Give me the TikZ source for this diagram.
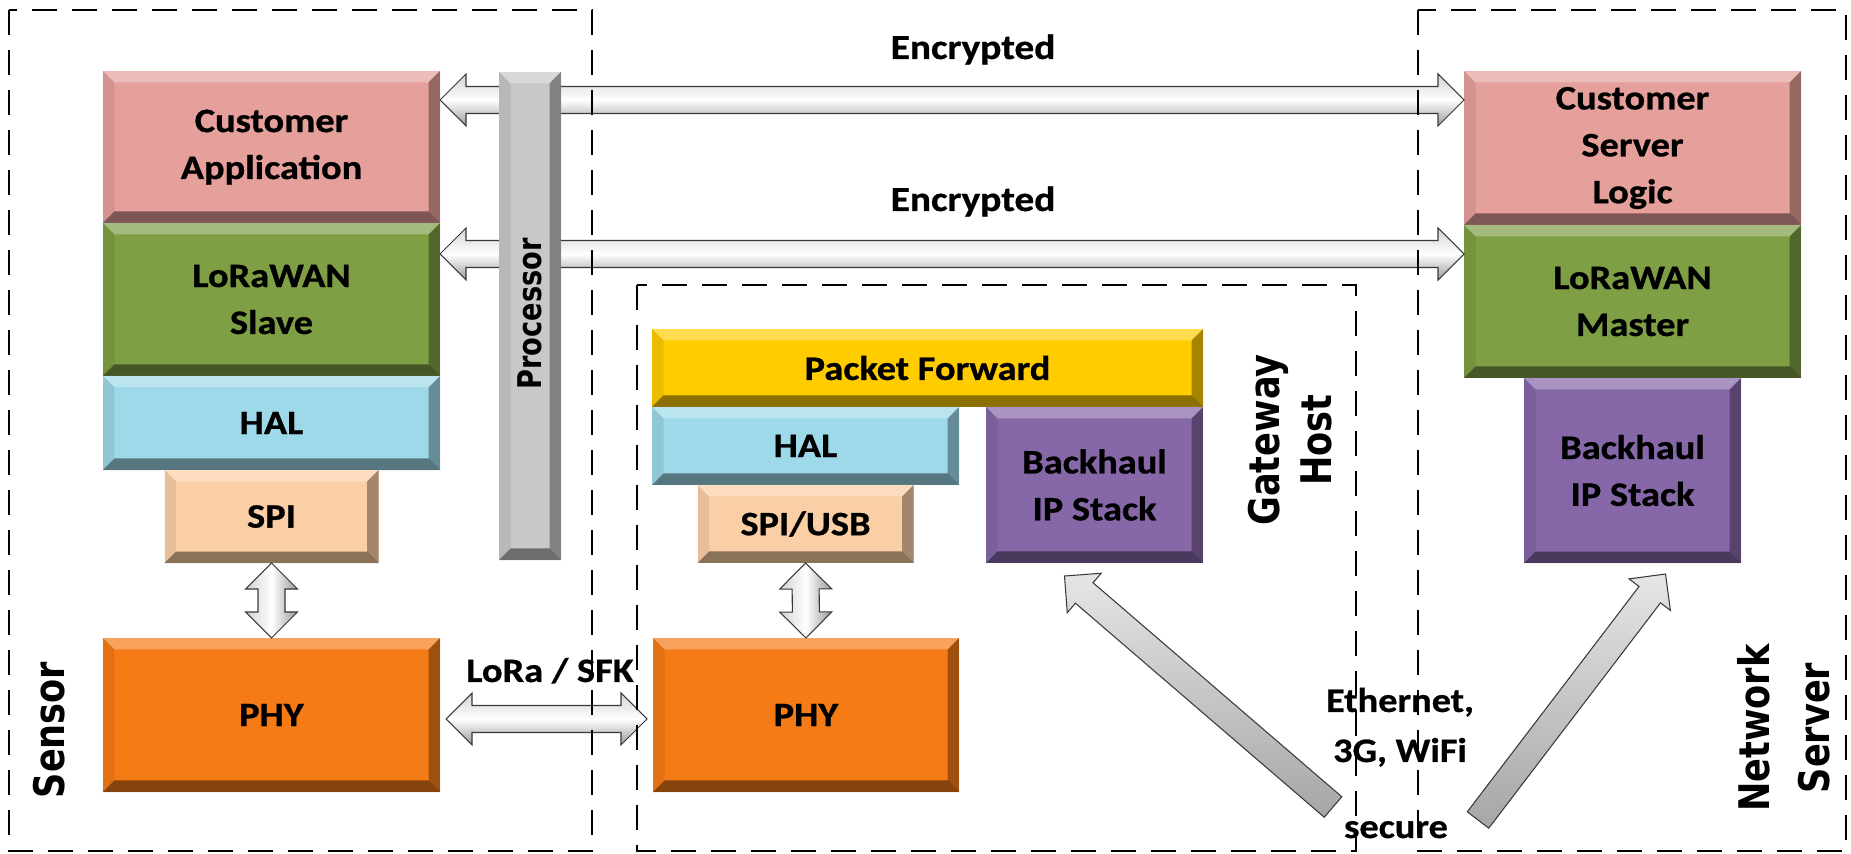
\documentclass[tikz,border=0pt]{standalone}
\usepackage{fontspec}
\setmainfont{Carlito}
\newfontfamily\boxfont{Carlito}[FakeStretch=1.12, FakeBold=0.8]
\newfontfamily\tagfont{DejaVu Sans}
\usetikzlibrary{positioning, calc}

\definecolor{appPink}{RGB}{229,160,155}
\definecolor{macGreen}{RGB}{127,159,69}
\definecolor{halBlue}{RGB}{157,217,232}
\definecolor{spiPeach}{RGB}{251,207,165}
\definecolor{phyOrange}{RGB}{245,123,22}
\definecolor{fwdYellow}{RGB}{255,204,0}
\definecolor{ipPurple}{RGB}{134,104,168}
\definecolor{procGray}{RGB}{200,200,200}

\newcommand*{\bevelw}{2.3mm}
\newcommand*{\headlen}{5.2mm}
\newcommand*{\headhalf}{5.2mm}
\newcommand*{\shafthalf}{2.7mm}

\tikzset{
  stackbox/.style={fill=#1, inner sep=0pt, outer sep=0pt, align=center,
    font=\boxfont\bfseries\fontsize{19.5}{26.7}\selectfont,
    path picture={
      \path (path picture bounding box.south west) coordinate (bsw)
            (path picture bounding box.north east) coordinate (bne)
            (path picture bounding box.north west) coordinate (bnw)
            (path picture bounding box.south east) coordinate (bse);
      \fill[white, opacity=.3] (bnw) -- (bne) -- ($(bne)+(-\bevelw,-\bevelw)$) -- ($(bnw)+(\bevelw,-\bevelw)$) -- cycle;
      \fill[black, opacity=.08] (bnw) -- ($(bnw)+(\bevelw,-\bevelw)$) -- ($(bsw)+(\bevelw,\bevelw)$) -- (bsw) -- cycle;
      \fill[black, opacity=.35] (bne) -- (bse) -- ($(bse)+(-\bevelw,\bevelw)$) -- ($(bne)+(-\bevelw,-\bevelw)$) -- cycle;
      \fill[black, opacity=.45] (bsw) -- (bse) -- ($(bse)+(-\bevelw,\bevelw)$) -- ($(bsw)+(\bevelw,\bevelw)$) -- cycle;
    }},
  fatarrow/.style={draw=gray!45!black, line width=0.6pt,
    top color=gray!35, bottom color=gray!80, middle color=white},
  slantarrow/.style={top color=gray!20, bottom color=gray!70},
  notelabel/.style={font=\boxfont\bfseries\fontsize{19.5}{28.5}\selectfont, inner sep=0pt},
  sidelabel/.style={font=\tagfont\bfseries\fontsize{20}{25}\selectfont, inner sep=0pt, align=center},
  zonebox/.style={line width=1.4pt, dash pattern=on 5mm off 3mm}
}

% double block arrow: #2 -> #3
\newcommand{\twoway}[3][]{%
  \path[fatarrow,#1] let \p1=(#2), \p2=(#3), \n1={atan2(\y2-\y1,\x2-\x1)} in
    (\p1) -- ($(\p1)+(\n1:\headlen)+({\n1+90}:\headhalf)$)
    -- ($(\p1)+(\n1:\headlen)+({\n1+90}:\shafthalf)$)
    -- ($(\p2)+({\n1+180}:\headlen)+({\n1+90}:\shafthalf)$)
    -- ($(\p2)+({\n1+180}:\headlen)+({\n1+90}:\headhalf)$)
    -- (\p2)
    -- ($(\p2)+({\n1+180}:\headlen)+({\n1-90}:\headhalf)$)
    -- ($(\p2)+({\n1+180}:\headlen)+({\n1-90}:\shafthalf)$)
    -- ($(\p1)+(\n1:\headlen)+({\n1-90}:\shafthalf)$)
    -- ($(\p1)+(\n1:\headlen)+({\n1-90}:\headhalf)$) -- cycle;}

% single block arrow: tail #2, tip #3
\newcommand{\oneway}[3][]{%
  \path[fatarrow,#1] let \p1=(#2), \p2=(#3), \n1={atan2(\y2-\y1,\x2-\x1)} in
    ($(\p1)+({\n1+90}:\shafthalf)$)
    -- ($(\p2)+({\n1+180}:\headlen)+({\n1+90}:\shafthalf)$)
    -- ($(\p2)+({\n1+180}:\headlen)+({\n1+90}:\headhalf)$)
    -- (\p2)
    -- ($(\p2)+({\n1+180}:\headlen)+({\n1-90}:\headhalf)$)
    -- ($(\p2)+({\n1+180}:\headlen)+({\n1-90}:\shafthalf)$)
    -- ($(\p1)+({\n1-90}:\shafthalf)$) -- cycle;}

\begin{document}
\begin{tikzpicture}[x=0.2mm, y=0.2mm]
  \useasboundingbox (0,0) rectangle (1851,854);

  % sensor stack
  \node[stackbox=appPink, minimum width=67.4mm, minimum height=30.4mm] (capp) at (271.5,707) {Customer\\Application};
  \node[stackbox=macGreen, minimum width=67.4mm, minimum height=30.6mm, below=0pt of capp] (slave) {LoRaWAN\\Slave};
  \node[stackbox=halBlue, minimum width=67.4mm, minimum height=18.8mm, below=0pt of slave] (hal1) {HAL};
  \node[stackbox=spiPeach, minimum width=42.8mm, minimum height=18.6mm, below=0pt of hal1] (spi) {SPI};
  \node[stackbox=phyOrange, minimum width=67.4mm, minimum height=30.8mm] (phy1) at (271.5,139) {PHY};

  % gateway stack
  \node[stackbox=fwdYellow, minimum width=110.2mm, minimum height=15.6mm] (pfwd) at (927.5,486) {Packet Forward};
  \node[stackbox=halBlue, minimum width=61.4mm, minimum height=15.6mm, below right=0pt of pfwd.south west] (hal2) {HAL};
  \node[stackbox=ipPurple, minimum width=43.4mm, minimum height=31.2mm, below left=0pt of pfwd.south east] (gwip) {Backhaul\\IP Stack};
  \node[stackbox=spiPeach, minimum width=43.2mm, minimum height=15.6mm, below=0pt of hal2] (spiusb) {SPI/USB};
  \node[stackbox=phyOrange, minimum width=61.2mm, minimum height=30.8mm] (phy2) at (806,139) {PHY};

  % network server stack
  \node[stackbox=appPink, minimum width=67.4mm, minimum height=30.8mm] (cslogic) at (1632.5,706) {Customer\\Server\\Logic};
  \node[stackbox=macGreen, minimum width=67.4mm, minimum height=30.6mm, below=0pt of cslogic] (master) {LoRaWAN\\Master};
  \node[stackbox=ipPurple, minimum width=43.4mm, minimum height=37mm, below=0pt of master] (nsip) {Backhaul\\IP Stack};

  % links
  \coordinate (a1l) at ($(capp.north east)+(0,-29)$);
  \coordinate (a2l) at ($(slave.north east)+(0,-31)$);
  \twoway{a1l}{cslogic.west |- a1l}
  \twoway{a2l}{master.west |- a2l}
  \twoway[shading angle=90]{spi.south}{phy1.north}
  \twoway[shading angle=90]{spiusb.south}{phy2.north}
  \coordinate (loral) at ($(phy1.east)+(6,-4)$);
  \coordinate (lorar) at ($(phy2.west)+(-6,-4)$);
  \twoway{loral}{lorar}
  \coordinate (gwtail) at (1333,47);
  \coordinate (nstail) at (1478,34);
  \oneway[slantarrow]{gwtail}{$(gwip.south)+(-30,-13)$}
  \oneway[slantarrow]{nstail}{$(nsip.south)+(33,-11)$}

  % processor bar over the links
  \node[stackbox=procGray, minimum width=12.4mm, minimum height=97.6mm] (proc) at (530,538) {};
  \node[sidelabel, font=\tagfont\bfseries\fontsize{15.5}{18}\selectfont, rotate=90, yscale=1.2] (proclbl) at (530,540) {Processor};

  % labels
  \node[notelabel, anchor=base, font=\boxfont\bfseries\fontsize{20}{24}\selectfont] (enc1) at (973,795) {Encrypted};
  \node[notelabel, anchor=base, font=\boxfont\bfseries\fontsize{20}{24}\selectfont] (enc2) at (973,643) {Encrypted};
  \node[notelabel, anchor=base] (lora) at (550,172) {LoRa / SFK};
  \node[notelabel, anchor=base, align=center] (media) at (1400,92) {Ethernet,\\3G, WiFi};
  \node[notelabel, anchor=base] (secure) at (1396,16) {secure};

  \node[sidelabel, rotate=90, yscale=1.2] (sensorlbl) at (49,124) {Sensor};
  \node[sidelabel, rotate=90, yscale=1.2, font=\tagfont\bfseries\fontsize{20}{25}\selectfont] (gwlbl) at (1290,414) {Gateway\\Host};
  \node[sidelabel, rotate=90, yscale=1.2, font=\tagfont\bfseries\fontsize{20}{28.5}\selectfont] (nslbl) at (1784,126) {Network\\Server};

  % dashed zones
  \draw[zonebox] (9,844) rectangle (592,3);
  \draw[zonebox] (637,569) rectangle (1356,3);
  \draw[zonebox] (1418,844) rectangle (1846,3);
\end{tikzpicture}
\end{document}
